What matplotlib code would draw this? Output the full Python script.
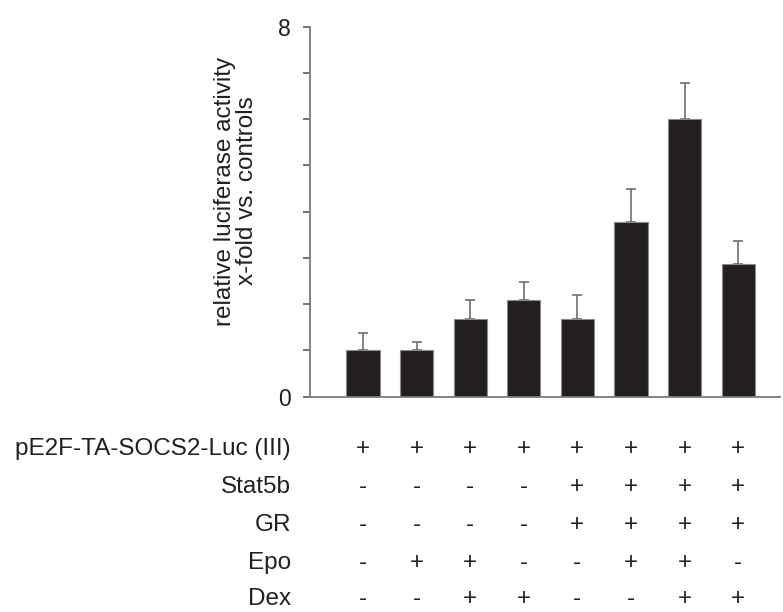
import matplotlib
matplotlib.use("Agg")
import matplotlib.pyplot as plt
import matplotlib.transforms as mtransforms

plt.rcParams['font.family'] = ['Liberation Sans', 'DejaVu Sans']

# Luciferase reporter activity (fold over controls), mean and upper SD
means = [1.0, 1.0, 1.67, 2.1, 1.67, 3.77, 6.0, 2.88]
errors = [0.37, 0.18, 0.43, 0.39, 0.52, 0.73, 0.78, 0.49]

# Transfection / treatment scheme under each bar
row_labels = ["pE2F-TA-SOCS2-Luc (III)", "Stat5b", "GR", "Epo", "Dex"]
row_reporter = ["+", "+", "+", "+", "+", "+", "+", "+"]
row_stat5b = ["-", "-", "-", "-", "+", "+", "+", "+"]
row_gr = ["-", "-", "-", "-", "+", "+", "+", "+"]
row_epo = ["-", "+", "+", "-", "-", "+", "+", "-"]
row_dex = ["-", "-", "+", "+", "-", "-", "+", "+"]
rows = [row_reporter, row_stat5b, row_gr, row_epo, row_dex]

yticks = list(range(0, 9))
ytick_labels = ["0", "", "", "", "", "", "", "", "8"]

W, H = 783, 612
fig = plt.figure(figsize=(W / 100, H / 100), dpi=100)
ax = fig.add_axes([310 / W, 1 - 396.7 / H, (780 - 310) / W, (396.7 - 26.7) / H])

x = list(range(len(means)))
ax.bar(x, means, width=0.62, color="#231f20", edgecolor="#8a8a8a", linewidth=0.8, zorder=2)
ax.errorbar(x, means, yerr=[[0] * len(means), errors], fmt="none",
            ecolor="#6e6e6e", elinewidth=1.2, capsize=3.5, capthick=1.2, zorder=1)

ax.set_xlim(-0.99, 7.78)
ax.set_ylim(0, 8)
ax.set_yticks(yticks)
ax.set_yticklabels(ytick_labels, fontsize=16.5, color="#231f20")
ax.set_xticks([])
for side in ("top", "right"):
    ax.spines[side].set_visible(False)
for side in ("left", "bottom"):
    ax.spines[side].set_color("#7a7a7a")
    ax.spines[side].set_linewidth(1.3)
ax.tick_params(axis="y", direction="out", length=5, width=1.1, color="#4a4a4a", pad=9)

ax.set_ylabel("relative luciferase activity\nx-fold vs. controls", fontsize=17.5,
              color="#231f20", linespacing=1.0, ha="center", va="center")
ax.yaxis.set_label_coords((236 - 310) / 470, (396.7 - 191) / 370)

# Treatment table: row names right-aligned, signs centred under bars
trans = mtransforms.blended_transform_factory(ax.transData, fig.transFigure)
row_y = [449, 487, 525, 563, 599]
for label, signs, yp in zip(row_labels, rows, row_y):
    fy = 1 - yp / H
    fig.text(291 / W, fy, label, ha="right", va="center", fontsize=17.5, color="#231f20")
    for xi, s in zip(x, signs):
        ax.text(xi, fy, s, transform=trans, ha="center", va="center",
                fontsize=17.5, color="#231f20", clip_on=False)

fig.savefig("out.png", dpi=100)
